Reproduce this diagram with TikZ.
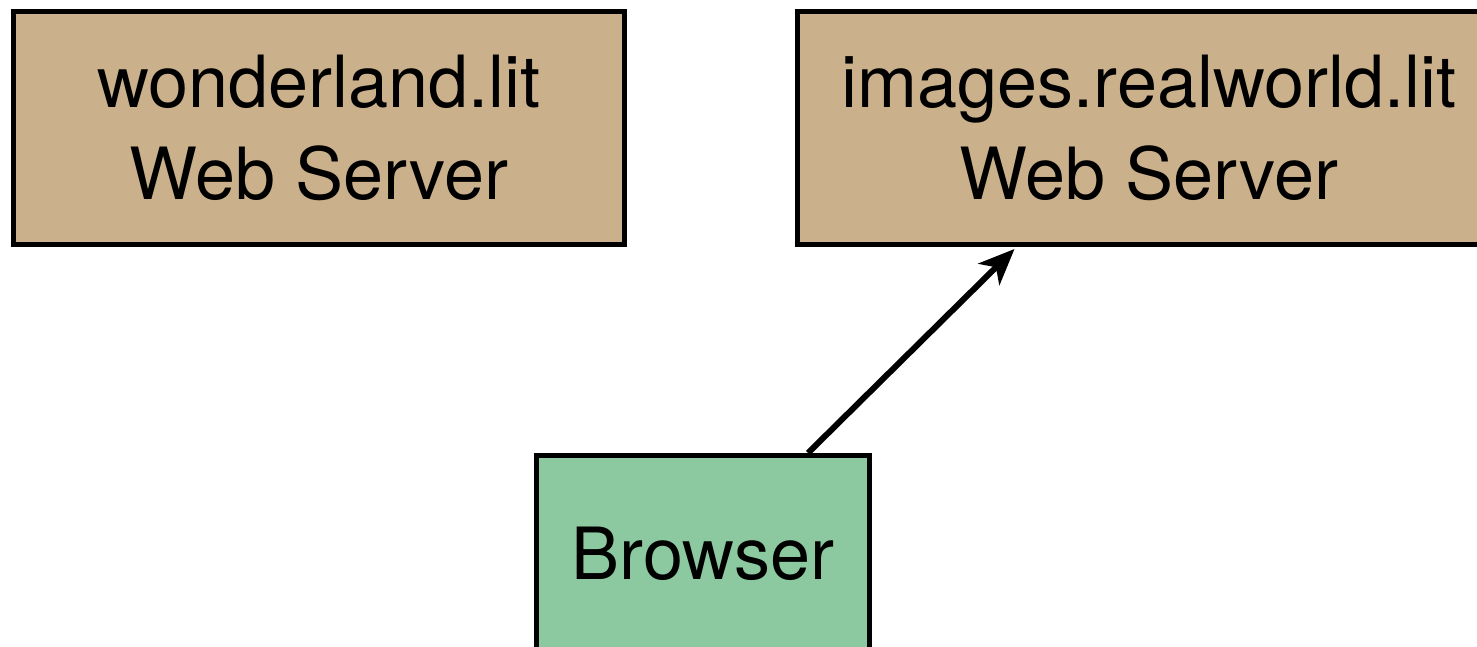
\documentclass[tikz,border=0pt]{standalone}
\usepackage{fontspec}
\setmainfont{TeX Gyre Heros}
\usetikzlibrary{arrows.meta,calc}
\definecolor{tan}{RGB}{203,177,139}
\definecolor{mint}{RGB}{140,201,160}
\tikzset{
  server/.style={draw=black, line width=2.5pt, fill=tan, align=center,
    font=\fontsize{36pt}{46pt}\selectfont, inner sep=0pt},
  client/.style={draw=black, line width=2.5pt, fill=mint, align=center,
    font=\fontsize{36pt}{46pt}\selectfont, inner sep=0pt},
  conn/.style={line width=3pt, -{Stealth[length=18pt,width=15pt,inset=5pt]}}
}
\begin{document}
\begin{tikzpicture}[x=0.5pt,y=-0.5pt]
\useasboundingbox (0,0) rectangle (1477,647);
\clip (0,0) rectangle (1477,647);
\node[server, minimum width=305.5pt, minimum height=116pt] (wonder) at (319,128) {wonderland.lit\\Web Server};
\node[server, minimum width=351.5pt, minimum height=116pt] (images) at (1149,128) {images.realworld.lit\\Web Server};
\node[client, minimum width=166.5pt, minimum height=98.5pt] (browser) at (703,554) {Browser};
\draw[conn] ([xshift=52.5pt]browser.north) -- ([xshift=109.75pt,yshift=-1.25pt]images.south west);
\end{tikzpicture}
\end{document}
